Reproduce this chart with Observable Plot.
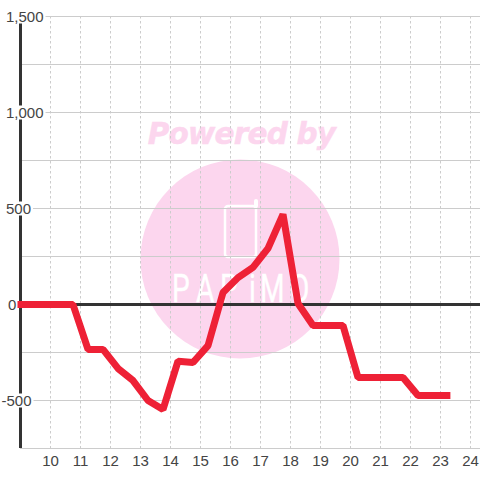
<!DOCTYPE html>
<html>
<head>
<meta charset="utf-8">
<style>
html,body{margin:0;padding:0;background:#fff;}
svg{display:block;}
</style>
<script src="https://cdn.jsdelivr.net/npm/d3@7"></script>
<script src="https://cdn.jsdelivr.net/npm/@observablehq/plot@0.6"></script>
</head>
<body>
<script>
const xValues = [8.9, 10.75, 11.25, 11.75, 12.25, 12.75, 13.25, 13.75, 14.25, 14.75, 15.25, 15.75, 16.25, 16.75, 17.25, 17.75, 18.25, 18.75, 19.75, 20.25, 21.75, 22.25, 23.33];
const yValues = [0, 0, -234, -234, -333, -396, -500, -547, -295, -302, -214, 62, 140, 193, 292, 469, 5, -109, -109, -380, -380, -474, -474];
const xTicks = [10, 11, 12, 13, 14, 15, 16, 17, 18, 19, 20, 21, 22, 23, 24];
const yGrid = [-750, -500, -250, 0, 250, 500, 750, 1000, 1250, 1500];
const yLabels = [1500, 1000, 500];
const fmt = d => d3.format(",")(d).replace("\u2212", "-");
const ink = "#333";
const label = "#444";
const pink = "#fcd6ee";

function watermark() {
  const g = d3.create("svg:g");
  g.append("circle").attr("cx", 240).attr("cy", 259).attr("r", 99.5).attr("fill", pink);
  g.append("text").attr("x", 241.5).attr("y", 144).attr("text-anchor", "middle")
    .attr("font-family", "DejaVu Sans").attr("font-weight", "bold").attr("font-style", "italic")
    .attr("letter-spacing", -0.8).attr("stroke", pink).attr("stroke-width", 0.5)
    .attr("font-size", 29.5).attr("fill", pink).text("Powered by");
  g.append("rect").attr("x", 225).attr("y", 206).attr("width", 31).attr("height", 51).attr("rx", 3)
    .attr("fill", "none").attr("stroke", "#fff").attr("stroke-width", 2.5);
  g.append("path").attr("d", "M256 206V201").attr("stroke", "#fff").attr("stroke-width", 4).attr("stroke-linecap", "round");
  g.append("text").attr("transform", "translate(0,302) scale(0.72,1)")
    .attr("text-anchor", "start")
    .attr("x", [172, 196, 220, 249, 260, 290].map(v => v / 0.72).join(" "))
    .attr("y", 0)
    .attr("font-family", "Roboto").attr("stroke", "#fff").attr("stroke-width", 0.4)
    .attr("font-size", 39).attr("fill", "#fff").text("PAPiMO");
  return g.node();
}

function yText(values, dx) {
  return Plot.text(values, {
    x: () => 9, y: d => d, text: d => fmt(d), textAnchor: "start", dx, dy: 0.7,
    fill: label, className: "ylab"
  });
}

const chart = Plot.plot({
  width: 480, height: 480,
  marginLeft: 20, marginRight: 0, marginTop: 16, marginBottom: 32,
  style: {background: "transparent", fontFamily: "Liberation Sans", fontSize: "15px"},
  x: {domain: [9, 24.3333], axis: null},
  y: {domain: [-750, 1500], axis: null},
  marks: [
    watermark,
    Plot.ruleY(yGrid, {stroke: "#ccc", strokeWidth: 1}),
    Plot.ruleX(xTicks, {stroke: "#ccc", strokeWidth: 1, strokeDasharray: "2.5,2.5"}),
    Plot.ruleX([9], {stroke: ink, strokeWidth: 3}),
    Plot.ruleY([0], {stroke: ink, strokeWidth: 3}),
    yText(yLabels, -14.5),
    yText([-500], -19),
    yText([0], -12.5),
    Plot.text(xTicks, {x: d => d, frameAnchor: "bottom", dy: 13, text: d => String(d), fill: label, lineAnchor: "middle"}),
    Plot.line(xValues.map((x, i) => ({x, y: yValues[i]})), {x: "x", y: "y", stroke: "#ee2136", strokeWidth: 7, strokeLinejoin: "miter", strokeLinecap: "butt", curve: "linear"})
  ]
});
document.body.appendChild(chart);

// white plate behind every value label, sized from the text itself
chart.querySelectorAll("g.ylab text").forEach(t => {
  const b = t.getBBox();
  const tf = t.getAttribute("transform");
  const r = document.createElementNS("http://www.w3.org/2000/svg", "rect");
  r.setAttribute("x", b.x - 2);
  r.setAttribute("y", b.y + b.height / 2 - 7);
  r.setAttribute("width", b.width + 4);
  r.setAttribute("height", 14);
  r.setAttribute("fill", "#fff");
  if (tf) r.setAttribute("transform", tf);
  t.parentNode.insertBefore(r, t);
});
</script>
</body>
</html>
